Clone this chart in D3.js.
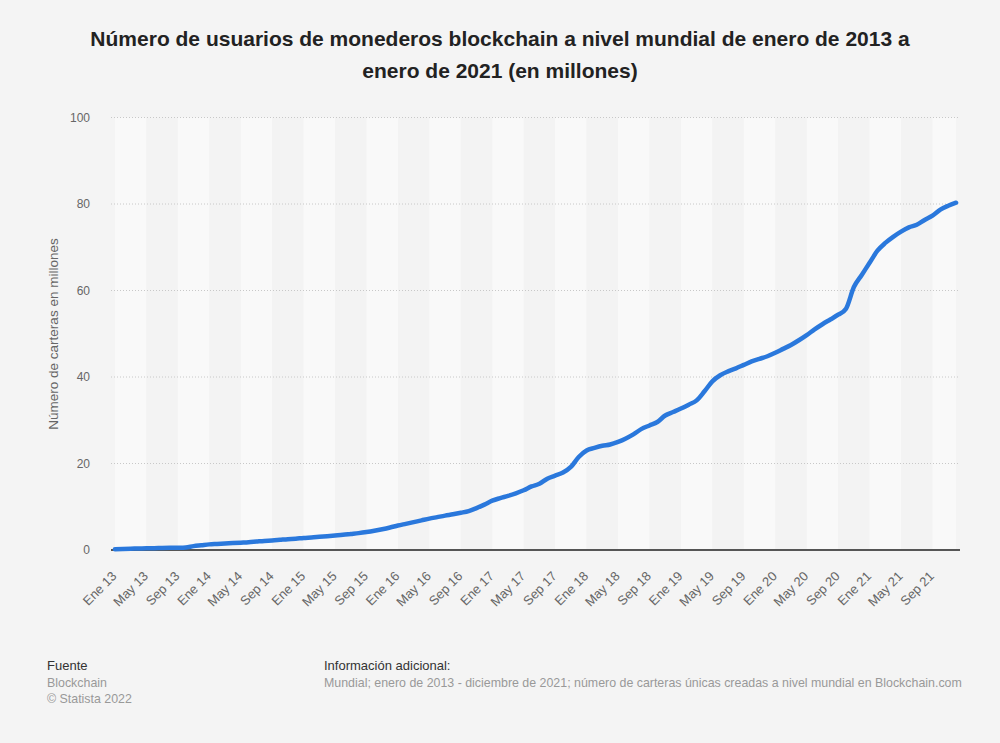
<!DOCTYPE html>
<html><head><meta charset="utf-8">
<script src="https://cdn.jsdelivr.net/npm/d3@7"></script>
<style>
html,body{margin:0;padding:0;background:#f4f4f4;}
svg{display:block;font-family:"Liberation Sans",Arial,sans-serif;}
</style></head>
<body>
<svg id="chart" width="1000" height="743"></svg>
<script>
const monthNames = ["Ene","Feb","Mar","Abr","May","Jun","Jul","Ago","Sep","Oct","Nov","Dic"];
const years = [13,14,15,16,17,18,19,20,21];
const values2013 = [0.2,0.25,0.3,0.35,0.4,0.43,0.46,0.5,0.53,0.6,0.9,1.1];
const values2014 = [1.3,1.4,1.5,1.6,1.7,1.8,1.95,2.1,2.2,2.35,2.5,2.6];
const values2015 = [2.8,2.9,3.05,3.2,3.35,3.5,3.7,3.9,4.15,4.45,4.8,5.2];
const values2016 = [5.65,6.05,6.45,6.85,7.25,7.6,7.95,8.25,8.6,9.0,9.7,10.5];
const values2017 = [11.4,12.0,12.5,13.1,13.8,14.7,15.3,16.5,17.2,17.9,19.2,21.5];
const values2018 = [23.0,23.6,24.1,24.4,25.0,25.8,26.8,28.0,28.8,29.6,31.1,31.9];
const values2019 = [32.7,33.6,34.6,36.7,39.0,40.4,41.3,42.0,42.8,43.6,44.2,44.8];
const values2020 = [45.6,46.5,47.4,48.5,49.7,51.0,52.2,53.3,54.4,55.8,60.8,63.6];
const values2021 = [66.4,69.2,71.0,72.4,73.6,74.6,75.2,76.3,77.3,78.7,79.6,80.3];
const yTicks = [0,20,40,60,80,100];

(function(){
const allValues = [values2013,values2014,values2015,values2016,values2017,values2018,values2019,values2020,values2021];
const data = [];
years.forEach((yr,yi)=>{
  monthNames.forEach((m,mi)=>{
    data.push({label: m+" "+yr, value: allValues[yi][mi]});
  });
});
const categories = data.map(d=>d.label);

const svg = d3.select("#chart");
const pLeft = 111, pRight = 960, pTop = 117.5, pBottom = 550;

const x = d3.scalePoint().domain(categories).range([pLeft,pRight]).padding(0.5);
const y = d3.scaleLinear().domain([0,100]).range([pBottom,pTop]);

// Title
const title = svg.append("text").attr("text-anchor","middle").attr("fill","#222")
  .style("font-weight","bold").style("font-size","21px");
title.append("tspan").attr("x",500).attr("y",46).text("Número de usuarios de monederos blockchain a nivel mundial de enero de 2013 a");
title.append("tspan").attr("x",500).attr("y",78).text("enero de 2021 (en millones)");

// Bands every 4 months
const nBands = Math.ceil(categories.length/4);
for(let k=0;k<nBands;k++){
  const a = categories[4*k];
  const bIdx = Math.min(4*k+4, categories.length-1);
  const x0 = x(a), x1 = x(categories[bIdx]);
  svg.append("rect").attr("x",x0).attr("y",pTop).attr("width",x1-x0).attr("height",pBottom-pTop)
    .attr("fill", k%2===0 ? "#f9f9f9" : "#f3f3f3");
}

// Gridlines
svg.append("g").selectAll("line").data(yTicks.filter(t=>t>0)).join("line")
  .attr("x1",pLeft).attr("x2",pRight).attr("y1",d=>y(d)).attr("y2",d=>y(d))
  .attr("stroke","#c8c8c8").attr("stroke-width",1).attr("stroke-dasharray","1,2");

// Y axis
const yAxis = d3.axisLeft(y).tickValues(yTicks).tickSize(0).tickPadding(0);
const gy = svg.append("g").attr("transform",`translate(${pLeft-21},0)`).call(yAxis);
gy.select(".domain").remove();
gy.selectAll("text").attr("fill","#666").style("font-size","12px").style("font-family","'Liberation Sans',Arial,sans-serif");

svg.append("text").attr("transform","translate(58,334) rotate(-90)").attr("text-anchor","middle")
  .attr("fill","#666").style("font-size","13.5px").text("Número de carteras en millones");

// X axis
const tickCats = categories.filter((c,i)=>i%4===0);
const xAxis = d3.axisBottom(x).tickValues(tickCats).tickSize(0).tickPadding(0);
const gx = svg.append("g").attr("transform",`translate(0,${pBottom})`).call(xAxis);
gx.select(".domain").remove();
gx.selectAll("text").attr("fill","#666").style("font-size","13px").style("font-family","'Liberation Sans',Arial,sans-serif")
  .attr("text-anchor","end").attr("dy",null).attr("y",null)
  .attr("transform","translate(2,27) rotate(-45)");

svg.append("line").attr("x1",pLeft).attr("x2",pRight).attr("y1",pBottom).attr("y2",pBottom)
  .attr("stroke","#555").attr("stroke-width",2);

// Line
const line = d3.line().x(d=>x(d.label)).y(d=>y(d.value)).curve(d3.curveMonotoneX);
svg.append("path").datum(data).attr("d",line).attr("fill","none")
  .attr("stroke","#2a78dc").attr("stroke-width",4.5).attr("stroke-linecap","round").attr("stroke-linejoin","round");

// Footer
svg.append("text").attr("x",47).attr("y",670).attr("fill","#333").style("font-size","13px").text("Fuente");
svg.append("text").attr("x",47).attr("y",687).attr("fill","#999").style("font-size","12.4px").text("Blockchain");
svg.append("text").attr("x",47).attr("y",703).attr("fill","#999").style("font-size","12.4px").text("© Statista 2022");
svg.append("text").attr("x",324).attr("y",670).attr("fill","#333").style("font-size","13px").text("Información adicional:");
svg.append("text").attr("x",324).attr("y",687).attr("fill","#999").style("font-size","12.4px").text("Mundial; enero de 2013 - diciembre de 2021; número de carteras únicas creadas a nivel mundial en Blockchain.com");
})();
</script>
</body></html>
